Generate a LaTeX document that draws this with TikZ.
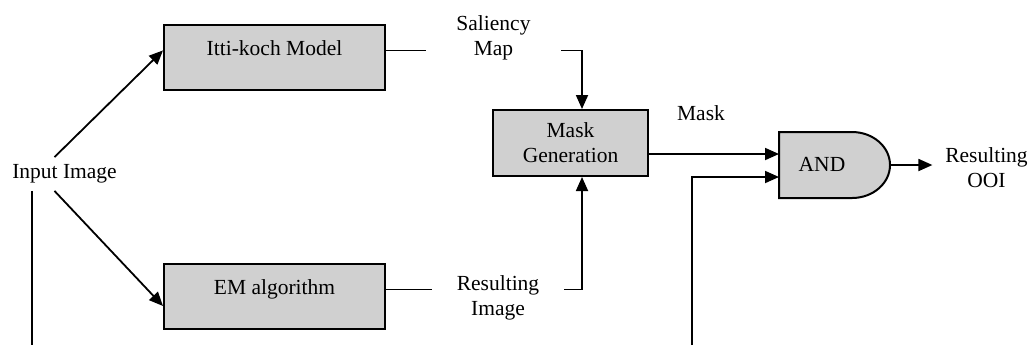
\documentclass[tikz,border=0pt]{standalone}
\usepackage{fontspec}
\setmainfont{Liberation Serif}
\usetikzlibrary{arrows.meta}
\definecolor{boxgray}{HTML}{D0D0D0}
\tikzset{
    block/.style={draw, line width=1pt, fill=boxgray, minimum width=110.5pt, inner sep=0pt, text height=15pt, text depth=17.5pt, anchor=north west},
    mblock/.style={draw, line width=1pt, fill=boxgray, minimum width=77.5pt, minimum height=33pt, align=center},
    lbl/.style={align=center},
    arr/.style={-{Triangle[length=7pt,width=6pt]}},
}
\begin{document}
\begin{tikzpicture}[x=0.5pt, y=-0.5pt, line width=0.9pt, font=\fontsize{10.75}{12.5}\selectfont]
    \useasboundingbox (0,0) rectangle (1031,345);
    \node [block] (itti) at (163,24) {Itti-koch Model};
    \node [block] (em) at (163,263) {EM algorithm};
    \node [mblock] (mask) at (570.5,143) {Mask\\Generation};
    \node (inp) at (64.5,174) {Input Image};
    \node [lbl, inner xsep=15pt] (sal) at (493.5,37.5) {Saliency\\Map};
    \node [lbl, inner xsep=12pt] (res) at (498,297.5) {Resulting\\Image};
    \node (masklbl) at (701,113) {Mask};
    \node [lbl, inner xsep=6pt] (ooi) at (986.5,167.5) {Resulting\\OOI};
    \draw [line width=1pt, fill=boxgray] (779,132) -- (852,132) arc[start angle=90, end angle=-90, x radius=19pt, y radius=16.5pt] -- (779,198) -- cycle;
    \node (and) at (822,164) {AND};
    \coordinate (in1) at (779,154);
    \coordinate (in2) at (779,177);
    \coordinate (gout) at (890,165);
    \coordinate (feed) at (692,345);
    \coordinate (inbot) at (32,345);
    \draw[arr] ([xshift=-5pt]inp.north) -- (itti.mid west);
    \draw[arr] ([xshift=-5pt]inp.south) -- ([yshift=-4.75pt]em.west);
    \draw (inbot |- inp.south) -- (inbot);
    \draw (itti.mid east) -- (itti.mid east -| sal.west);
    \draw (em.mid east) -- (em.mid east -| res.west);
    \draw[arr] (sal.east |- itti.mid east) -| ([xshift=5.75pt]mask.north);
    \draw[arr] (res.east |- em.mid east) -| ([xshift=5.75pt]mask.south);
    \draw[arr] (mask.east |- in1) -- (in1);
    \draw[arr] (feed) |- (in2);
    \draw[arr] (gout) -- (gout -| ooi.west);
\end{tikzpicture}
\end{document}
